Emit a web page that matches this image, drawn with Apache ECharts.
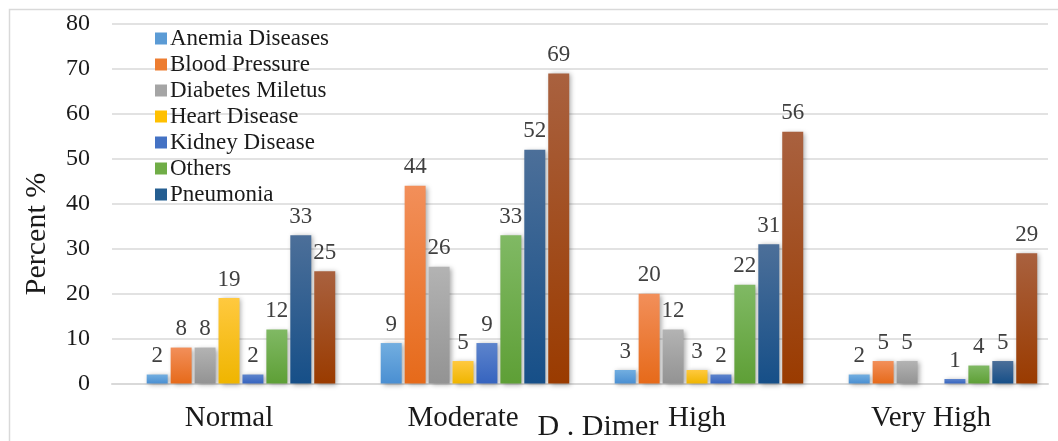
<!DOCTYPE html>
<html>
<head>
<meta charset="utf-8">
<title>D-Dimer by comorbidity</title>
<script src="https://cdn.jsdelivr.net/npm/echarts@6/dist/echarts.min.js"></script>
<style>
  html, body { margin: 0; padding: 0; background: #fff; }
  #chart { width: 1058px; height: 441px; }
</style>
</head>
<body>
<div id="chart"></div>
<script>
// D-dimer level groups
const categories = ['Normal', 'Moderate', 'High', 'Very High'];

// Percent of patients per comorbidity in each D-dimer group
const anemia    = [2, 9, 3, 2];
const bloodPres = [8, 44, 20, 5];
const diabetes  = [8, 26, 12, 5];
const heart     = [19, 5, 3, null];
const kidney    = [2, 9, 2, 1];
const others    = [12, 33, 22, 4];
const pneumonia = [33, 52, 31, 5];
const series8   = [25, 69, 56, 29];

// Y axis ticks
const yTicks = [0, 10, 20, 30, 40, 50, 60, 70, 80];

const FONT = 'Liberation Serif';

function grad(top, bottom) {
  return new echarts.graphic.LinearGradient(0, 0, 0, 1, [
    { offset: 0, color: top },
    { offset: 1, color: bottom }
  ]);
}

const seriesDefs = [
  { name: 'Anemia Diseases',  data: anemia,    top: '#72aee0', bottom: '#4a8fd2', legend: '#5b9bd5' },
  { name: 'Blood Pressure',   data: bloodPres, top: '#f28f5a', bottom: '#e66a1a', legend: '#ed7d31' },
  { name: 'Diabetes Miletus', data: diabetes,  top: '#b3b3b3', bottom: '#939393', legend: '#a5a5a5' },
  { name: 'Heart Disease',    data: heart,     top: '#ffc93f', bottom: '#efb500', legend: '#ffc000' },
  { name: 'Kidney Disease',   data: kidney,    top: '#5d84cc', bottom: '#3664bf', legend: '#4472c4' },
  { name: 'Others',           data: others,    top: '#80b964', bottom: '#5e9f36', legend: '#70ad47' },
  { name: 'Pneumonia',        data: pneumonia, top: '#4c6f99', bottom: '#164f88', legend: '#255e91' },
  { name: 'Series 8',         data: series8,   top: '#a9613f', bottom: '#9a3b00', legend: '#9e480e' }
];

const legendNames = seriesDefs.slice(0, 7).map(d => d.name);

const series = [
  // empty leading slot in each group
  {
    name: 'blank', type: 'bar', data: categories.map(() => null),
    barGap: '14%', barCategoryGap: '9.2%', silent: true
  }
].concat(seriesDefs.map(d => ({
  name: d.name,
  type: 'bar',
  data: d.data,
  barGap: '14%',
  barCategoryGap: '9.2%',
  itemStyle: {
    color: grad(d.top, d.bottom),
    shadowColor: 'rgba(0,0,0,0.35)',
    shadowBlur: 5,
    shadowOffsetX: 2,
    shadowOffsetY: 1
  },
  label: {
    show: true,
    position: 'top',
    distance: 7,
    color: '#404040',
    fontFamily: FONT,
    fontSize: 23
  }
})));

const chart = echarts.init(document.getElementById('chart'), null, { renderer: 'canvas' });

chart.setOption({
  animation: false,
  backgroundColor: '#ffffff',
  textStyle: { fontFamily: FONT },
  color: seriesDefs.map(d => d.legend),
  grid: { left: 112, right: 10, top: 24, bottom: 57.5, containLabel: false },
  legend: {
    data: legendNames.map((n, i) => ({ name: n, itemStyle: { color: seriesDefs[i].legend } })),
    orient: 'vertical',
    left: 150,
    top: 22,
    itemWidth: 12,
    itemHeight: 12,
    itemGap: 3,
    icon: 'rect',
    textStyle: { fontFamily: FONT, fontSize: 23, color: '#1a1a1a', padding: [0, 0, 0, -2] },
    selectedMode: false
  },
  xAxis: {
    type: 'category',
    data: categories,
    axisLine: { show: true, lineStyle: { color: '#d9d9d9', width: 2 } },
    axisTick: { show: false },
    axisLabel: { margin: 20, color: '#1a1a1a', fontFamily: FONT, fontSize: 29 }
  },
  yAxis: {
    type: 'value',
    min: yTicks[0],
    max: yTicks[yTicks.length - 1],
    interval: yTicks[1] - yTicks[0],
    axisLine: { show: false },
    axisTick: { show: false },
    splitLine: { lineStyle: { color: '#d9d9d9', width: 1.5 } },
    axisLabel: { margin: 22, color: '#1a1a1a', fontFamily: FONT, fontSize: 24 }
  },
  graphic: [
    {
      type: 'rect',
      left: 7, top: 7,
      shape: { x: 0, y: 0, width: 1100, height: 500 },
      style: { fill: 'none', stroke: '#d9d9d9', lineWidth: 1.5 },
      silent: true, z: -1
    },
    {
      type: 'text',
      x: 37, y: 234,
      rotation: Math.PI / 2,
      style: {
        text: 'Percent %',
        fontFamily: FONT, fontSize: 30, fill: '#1a1a1a',
        textAlign: 'center', textVerticalAlign: 'middle'
      }
    },
    {
      type: 'text',
      x: 598, y: 427,
      style: {
        text: 'D . Dimer',
        fontFamily: FONT, fontSize: 30, fill: '#1a1a1a',
        textAlign: 'center', textVerticalAlign: 'middle'
      }
    }
  ],
  series: series
});
</script>
</body>
</html>
